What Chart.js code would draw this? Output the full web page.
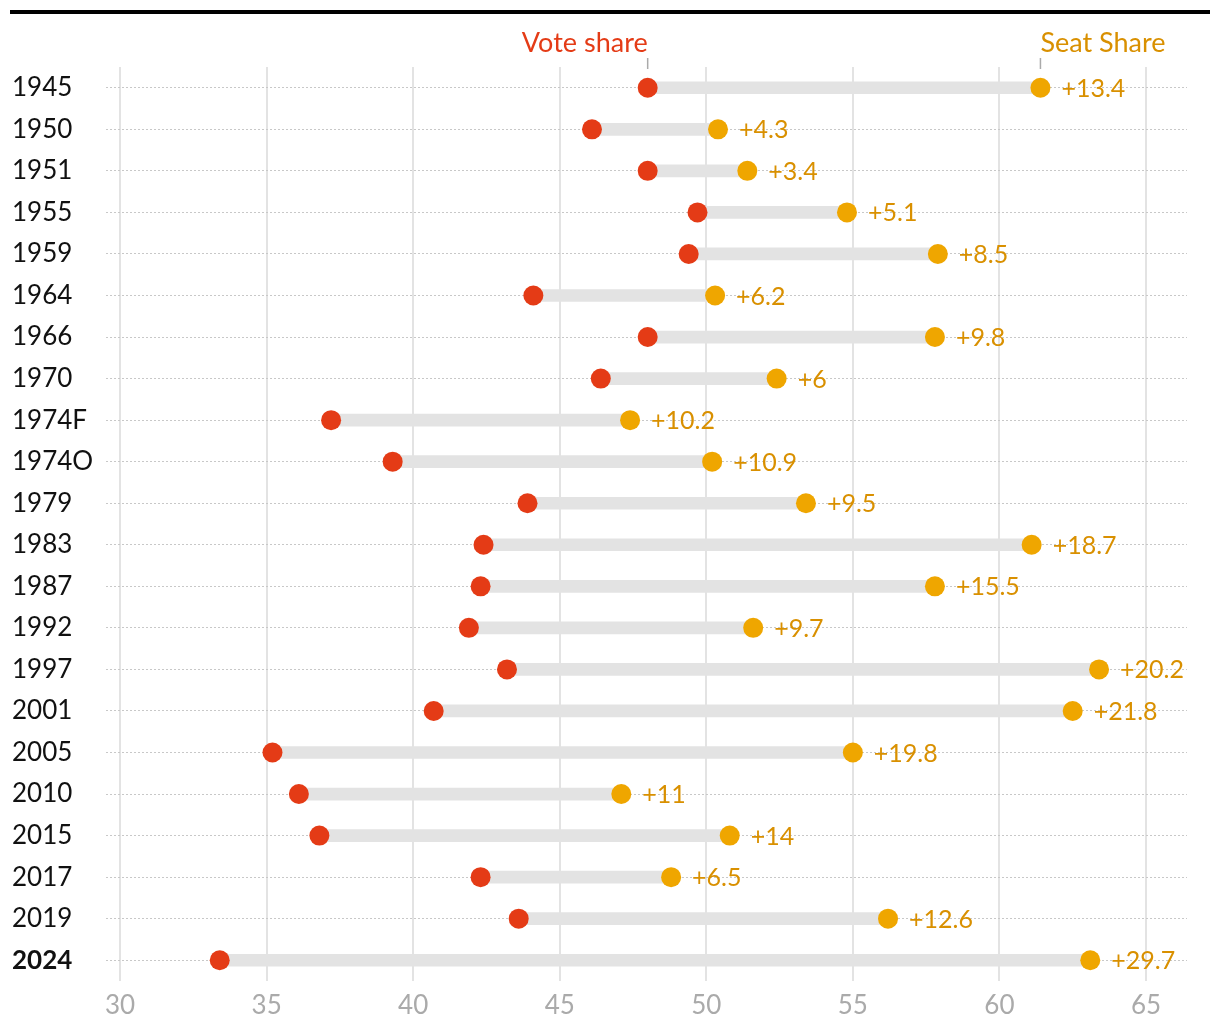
<!DOCTYPE html>
<html>
<head>
<meta charset="utf-8">
<script src="https://cdn.jsdelivr.net/npm/chart.js@4"></script>
<style>
    body { margin: 0; background: #fff; }
    #wrap { width: 1220px; height: 1032px; position: relative; }
</style>
</head>
<body>
<div id="wrap"><canvas id="chart"></canvas></div>
<script>
// Elections
const years = ['1945', '1950', '1951', '1955', '1959', '1964', '1966', '1970', '1974F', '1974O', '1979',
    '1983', '1987', '1992', '1997', '2001', '2005', '2010', '2015', '2017', '2019', '2024'];

// Winning party vote share and seat share (%)
const voteShare = [48.0, 46.1, 48.0, 49.7, 49.4, 44.1, 48.0, 46.4, 37.2, 39.3, 43.9,
    42.4, 42.3, 41.9, 43.2, 40.7, 35.2, 36.1, 36.8, 42.3, 43.6, 33.4];
const seatShare = [61.4, 50.4, 51.4, 54.8, 57.9, 50.3, 57.8, 52.4, 47.4, 50.2, 53.4,
    61.1, 57.8, 51.6, 63.4, 62.5, 55.0, 47.1, 50.8, 48.8, 56.2, 63.1];
const gapLabels = ['+13.4', '+4.3', '+3.4', '+5.1', '+8.5', '+6.2', '+9.8', '+6', '+10.2', '+10.9', '+9.5',
    '+18.7', '+15.5', '+9.7', '+20.2', '+21.8', '+19.8', '+11', '+14', '+6.5', '+12.6', '+29.7'];

const xTicks = [30, 35, 40, 45, 50, 55, 60, 65];

const RED = '#e43b16';
const ORANGE = '#efa600';
const ORANGE_TEXT = '#d99000';
const FONT = 'Lato, "Open Sans", sans-serif';

// top rule, gap labels and series annotations
const extras = {
    id: 'extras',
    afterDatasetsDraw(chart) {
        const ctx = chart.ctx;
        const x = chart.scales.x, y = chart.scales.y;
        ctx.save();
        ctx.fillStyle = '#000';
        ctx.fillRect(10, 10, 1200, 4);

        ctx.font = '25px ' + FONT;
        ctx.fillStyle = ORANGE_TEXT;
        ctx.textAlign = 'left';
        ctx.textBaseline = 'middle';
        seatShare.forEach((v, i) => {
            ctx.fillText(gapLabels[i], x.getPixelForValue(v) + 21, y.getPixelForValue(i) + 1);
        });

        const vx = x.getPixelForValue(voteShare[0]);
        const sx = x.getPixelForValue(seatShare[0]);
        ctx.font = '27px ' + FONT;
        ctx.textBaseline = 'alphabetic';
        ctx.fillStyle = RED;
        ctx.textAlign = 'right';
        ctx.fillText('Vote share', vx, 52);
        ctx.fillStyle = ORANGE_TEXT;
        ctx.textAlign = 'left';
        ctx.fillText('Seat Share', sx, 52);

        ctx.strokeStyle = '#aaaaaa';
        ctx.lineWidth = 1.5;
        [vx, sx].forEach(px => {
            ctx.beginPath();
            ctx.moveTo(px, 58);
            ctx.lineTo(px, 69);
            ctx.stroke();
        });
        ctx.restore();
    }
};

new Chart(document.getElementById('chart'), {
    type: 'bar',
    data: {
        labels: years,
        datasets: [
            {
                type: 'line',
                label: 'Vote share',
                data: voteShare,
                showLine: false,
                pointRadius: 10,
                pointBorderWidth: 0,
                pointBackgroundColor: RED,
                order: 1
            },
            {
                type: 'line',
                label: 'Seat share',
                data: seatShare,
                showLine: false,
                pointRadius: 10,
                pointBorderWidth: 0,
                pointBackgroundColor: ORANGE,
                order: 2
            },
            {
                label: 'Gap',
                data: voteShare.map((v, i) => [v, seatShare[i]]),
                backgroundColor: '#e3e3e3',
                barThickness: 12,
                borderSkipped: false,
                order: 3
            }
        ]
    },
    options: {
        indexAxis: 'y',
        responsive: true,
        maintainAspectRatio: false,
        animation: false,
        layout: { padding: { left: 12, right: 33, top: 67, bottom: 0 } },
        plugins: {
            legend: { display: false },
            tooltip: { enabled: false }
        },
        scales: {
            x: {
                min: 29.52,
                max: 66.4,
                afterBuildTicks: scale => { scale.ticks = xTicks.map(v => ({ value: v })); },
                afterFit: scale => { scale.height = 51; },
                grid: { color: '#e3e3e3', lineWidth: 2, drawTicks: false },
                border: { display: false },
                ticks: {
                    color: '#aaaaaa',
                    padding: 9,
                    font: { family: FONT, size: 26 }
                }
            },
            y: {
                offset: true,
                afterFit: scale => { scale.width = 94; },
                grid: { color: '#c8c8c8', lineWidth: 1, offset: false, drawTicks: false },
                border: { display: false, dash: [2, 2] },
                ticks: {
                    autoSkip: false,
                    crossAlign: 'far',
                    color: '#111',
                    font: ctx => ({
                        family: FONT,
                        size: 26,
                        weight: years[ctx.index] === '2024' ? 'bold' : 'normal'
                    })
                }
            }
        }
    },
    plugins: [extras]
});
</script>
</body>
</html>
